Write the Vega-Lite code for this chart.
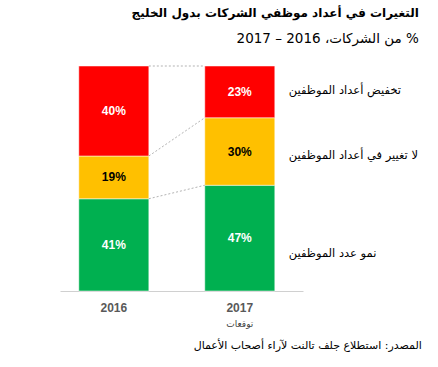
{
  "$schema": "https://vega.github.io/schema/vega-lite/v6.json",
  "width": 243,
  "height": 225,
  "padding": {"left": 60, "top": 7, "right": 0, "bottom": 0},
  "autosize": {"type": "pad"},
  "background": "white",
  "title": {
    "text": "التغيرات في أعداد موظفي الشركات بدول الخليج",
    "subtitle": "\u202b% من الشركات، 2016 – 2017\u202c",
    "anchor": "end",
    "frame": "bounds",
    "font": "DejaVu Sans",
    "fontSize": 12,
    "fontWeight": "bold",
    "color": "black",
    "subtitleFont": "DejaVu Sans",
    "subtitleFontSize": 13.5,
    "subtitleColor": "black",
    "subtitlePadding": 12,
    "offset": 19,
    "dx": -3
  },
  "config": {"view": {"stroke": null}},
  "datasets": {
    "bars": [
      {"year": "2016", "cat": "نمو عدد الموظفين", "ord": 1, "value": 41},
      {"year": "2016", "cat": "لا تغيير في أعداد الموظفين", "ord": 2, "value": 19},
      {"year": "2016", "cat": "تخفيض أعداد الموظفين", "ord": 3, "value": 40},
      {"year": "2017", "cat": "نمو عدد الموظفين", "ord": 1, "value": 47},
      {"year": "2017", "cat": "لا تغيير في أعداد الموظفين", "ord": 2, "value": 30},
      {"year": "2017", "cat": "تخفيض أعداد الموظفين", "ord": 3, "value": 23}
    ],
    "connectors": [
      {"from": 100, "to": 100},
      {"from": 60, "to": 77},
      {"from": 41, "to": 47}
    ],
    "labels": [
      {"label": "تخفيض أعداد الموظفين", "ly": 89},
      {"label": "لا تغيير في أعداد الموظفين", "ly": 60},
      {"label": "نمو عدد الموظفين", "ly": 16.5}
    ]
  },
  "layer": [
    {
      "data": {"name": "bars"},
      "transform": [
        {"stack": "value", "groupby": ["year"], "sort": [{"field": "ord", "order": "ascending"}], "as": ["y0", "y1"]}
      ],
      "mark": {"type": "bar", "stroke": "white", "strokeWidth": 0.5},
      "encoding": {
        "x": {
          "field": "year", "type": "nominal",
          "scale": {"domain": ["2016", "2017"], "paddingInner": 0.444, "paddingOuter": 0.1865, "align": 0.4},
          "axis": {
            "title": null, "labelAngle": 0, "ticks": false,
            "domainColor": "#d0d0d0", "domainWidth": 1,
            "labelFont": "Liberation Sans", "labelFontSize": 12, "labelFontWeight": "bold",
            "labelColor": "#595959", "labelPadding": 11
          }
        },
        "y": {"field": "y0", "type": "quantitative", "scale": {"domain": [0, 100], "nice": false}, "axis": null},
        "y2": {"field": "y1"},
        "color": {
          "field": "cat", "type": "nominal", "legend": null,
          "scale": {
            "domain": ["نمو عدد الموظفين", "لا تغيير في أعداد الموظفين", "تخفيض أعداد الموظفين"],
            "range": ["#00B050", "#FFC000", "#FF0000"]
          }
        }
      }
    },
    {
      "data": {"name": "bars"},
      "transform": [
        {"stack": "value", "groupby": ["year"], "sort": [{"field": "ord", "order": "ascending"}], "as": ["y0", "y1"]},
        {"calculate": "(datum.y0 + datum.y1) / 2", "as": "mid"},
        {"calculate": "datum.value + '%'", "as": "lbl"}
      ],
      "mark": {"type": "text", "font": "Liberation Sans", "fontSize": 12, "fontWeight": "bold", "baseline": "middle"},
      "encoding": {
        "x": {"field": "year", "type": "nominal"},
        "y": {"field": "mid", "type": "quantitative"},
        "text": {"field": "lbl"},
        "color": {
          "condition": {"test": "datum.ord == 2", "value": "black"},
          "value": "white"
        }
      }
    },
    {
      "data": {"name": "connectors"},
      "mark": {"type": "rule", "color": "#a0a0a0", "strokeWidth": 0.8, "strokeDash": [2, 2]},
      "encoding": {
        "x": {"datum": "2016", "type": "nominal", "bandPosition": 1},
        "x2": {"datum": "2017", "bandPosition": 0},
        "y": {"field": "from", "type": "quantitative"},
        "y2": {"field": "to"}
      }
    },
    {
      "data": {"name": "labels"},
      "mark": {"type": "text", "align": "left", "baseline": "middle", "dx": 14, "font": "DejaVu Sans", "fontSize": 11.5, "color": "black"},
      "encoding": {
        "x": {"datum": "2017", "type": "nominal", "bandPosition": 1},
        "y": {"field": "ly", "type": "quantitative"},
        "text": {"field": "label"}
      }
    },
    {
      "data": {"values": [{"t": "توقعات"}]},
      "mark": {"type": "text", "align": "center", "baseline": "middle", "font": "DejaVu Sans", "fontSize": 9, "color": "#404040"},
      "encoding": {
        "x": {"datum": "2017", "type": "nominal"},
        "y": {"datum": -14.5, "type": "quantitative"},
        "text": {"field": "t"}
      }
    },
    {
      "data": {"values": [{"t": "المصدر: استطلاع جلف تالنت لآراء أصحاب الأعمال"}]},
      "mark": {"type": "text", "align": "right", "baseline": "middle", "dx": 147, "font": "DejaVu Sans", "fontSize": 11, "color": "black"},
      "encoding": {
        "x": {"datum": "2017", "type": "nominal", "bandPosition": 1},
        "y": {"datum": -24.5, "type": "quantitative"},
        "text": {"field": "t"}
      }
    }
  ]
}
